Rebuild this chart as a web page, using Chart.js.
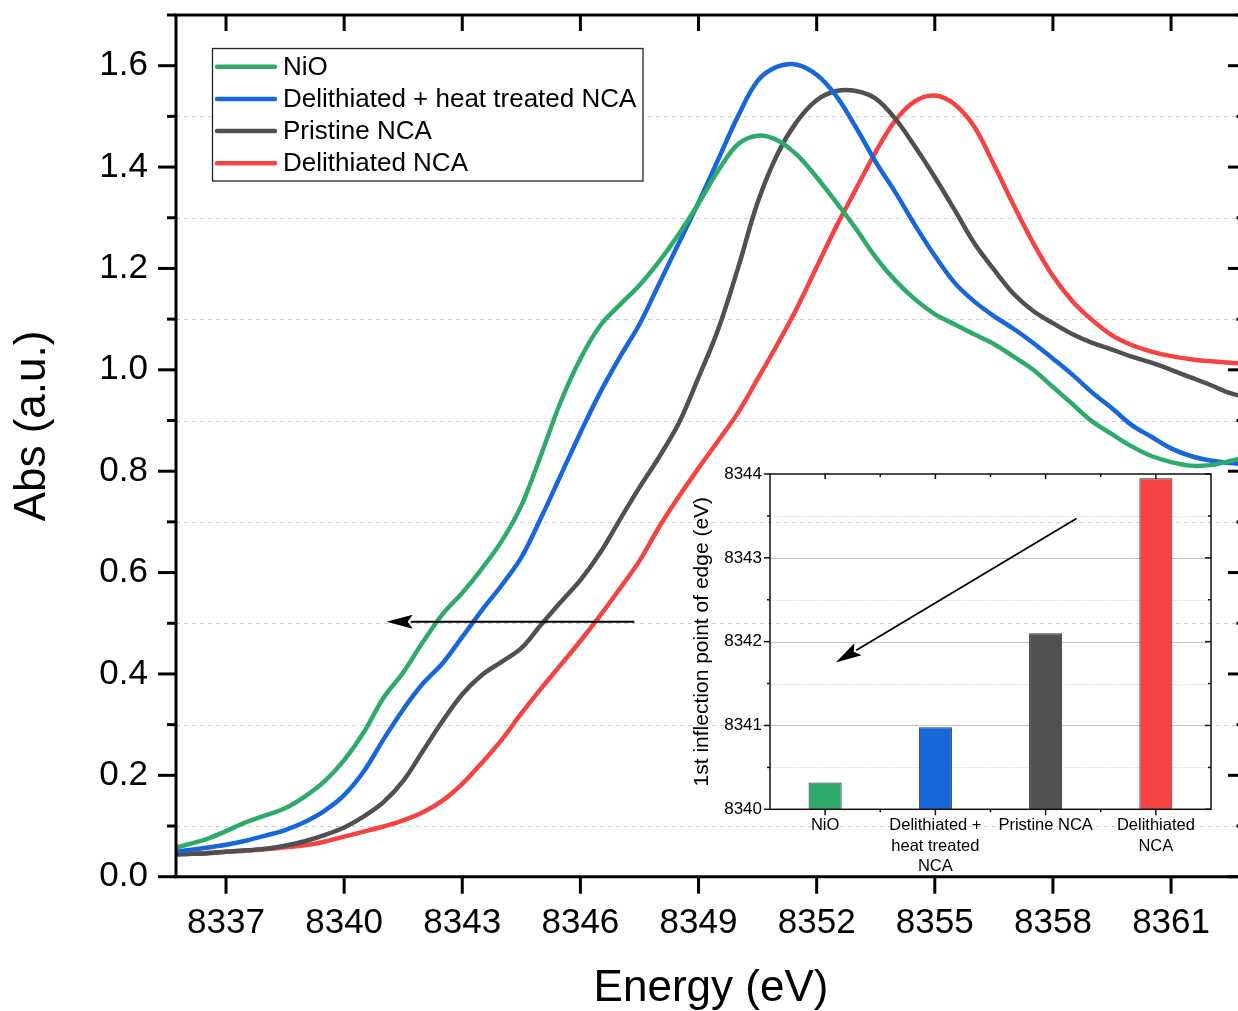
<!DOCTYPE html>
<html>
<head>
<meta charset="utf-8">
<title>Ni K-edge XANES</title>
<script src="https://cdn.jsdelivr.net/npm/chart.js@4.4.1/dist/chart.umd.min.js"></script>
<style>
  html, body { margin: 0; padding: 0; background: #fff; overflow: hidden; }
  #wrap { position: relative; width: 1238px; height: 1011px; }
  #main { position: absolute; left: 0; top: 0; }
  #inset { position: absolute; left: 680px; top: 460px; }
</style>
</head>
<body>
<div id="wrap">
  <canvas id="main" width="1238" height="1011"></canvas>
  <canvas id="inset" width="550" height="420"></canvas>
</div>
<script>
// spectra, every 0.5 eV
const energy = [
  8335.5, 8336.0, 8336.5, 8337.0, 8337.5, 8338.0, 8338.5, 8339.0, 8339.5, 8340.0,
  8340.5, 8341.0, 8341.5, 8342.0, 8342.5, 8343.0, 8343.5, 8344.0, 8344.5, 8345.0,
  8345.5, 8346.0, 8346.5, 8347.0, 8347.5, 8348.0, 8348.5, 8349.0, 8349.5, 8350.0,
  8350.5, 8351.0, 8351.5, 8352.0, 8352.5, 8353.0, 8353.5, 8354.0, 8354.5, 8355.0,
  8355.5, 8356.0, 8356.5, 8357.0, 8357.5, 8358.0, 8358.5, 8359.0, 8359.5, 8360.0,
  8360.5, 8361.0, 8361.5, 8362.0, 8362.5, 8363.0
];
const nio = [
  0.053, 0.063, 0.074, 0.090, 0.107, 0.121, 0.135, 0.158, 0.188, 0.230,
  0.285, 0.353, 0.403, 0.463, 0.518, 0.560, 0.608, 0.662, 0.732, 0.832,
  0.937, 1.022, 1.087, 1.128, 1.167, 1.214, 1.268, 1.328, 1.393, 1.445,
  1.462, 1.453, 1.424, 1.380, 1.330, 1.278, 1.222, 1.176, 1.139, 1.110,
  1.090, 1.070, 1.051, 1.026, 1.000, 0.966, 0.932, 0.898, 0.873, 0.849,
  0.830, 0.818, 0.811, 0.812, 0.820, 0.830
];
const delithHeat = [
  0.047, 0.052, 0.057, 0.063, 0.071, 0.081, 0.092, 0.108, 0.130, 0.161,
  0.208, 0.271, 0.330, 0.381, 0.421, 0.473, 0.526, 0.575, 0.630, 0.708,
  0.792, 0.876, 0.955, 1.025, 1.090, 1.170, 1.250, 1.330, 1.415, 1.500,
  1.570, 1.598, 1.602, 1.582, 1.540, 1.478, 1.410, 1.350, 1.285, 1.225,
  1.172, 1.135, 1.106, 1.081, 1.053, 1.022, 0.990, 0.955, 0.924, 0.891,
  0.868, 0.845, 0.830, 0.821, 0.816, 0.813
];
const pristine = [
  0.044, 0.045, 0.046, 0.049, 0.052, 0.055, 0.061, 0.070, 0.082, 0.097,
  0.119, 0.147, 0.189, 0.248, 0.307, 0.360, 0.398, 0.424, 0.451, 0.497,
  0.542, 0.585, 0.639, 0.704, 0.768, 0.828, 0.895, 0.985, 1.080, 1.200,
  1.330, 1.425, 1.490, 1.532, 1.550, 1.550, 1.535, 1.495, 1.440, 1.380,
  1.316, 1.250, 1.198, 1.150, 1.116, 1.092, 1.070, 1.053, 1.040, 1.026,
  1.014, 1.000, 0.985, 0.970, 0.954, 0.945
];
const delith = [
  0.043, 0.045, 0.047, 0.049, 0.051, 0.054, 0.058, 0.062, 0.069, 0.079,
  0.089, 0.099, 0.111, 0.127, 0.150, 0.183, 0.225, 0.270, 0.322, 0.371,
  0.418, 0.465, 0.515, 0.568, 0.623, 0.690, 0.750, 0.806, 0.860, 0.915,
  0.982, 1.050, 1.122, 1.203, 1.283, 1.357, 1.430, 1.492, 1.530, 1.541,
  1.524, 1.480, 1.405, 1.325, 1.250, 1.185, 1.135, 1.098, 1.068, 1.049,
  1.036, 1.027, 1.021, 1.017, 1.014, 1.012
];

const seriesNames = ['NiO', 'Delithiated + heat treated NCA', 'Pristine NCA', 'Delithiated NCA'];
const seriesData = [nio, delithHeat, pristine, delith];
const seriesColors = ['#2eaa6b', '#1767db', '#505050', '#f54242'];

const energyTicks = [8337, 8340, 8343, 8346, 8349, 8352, 8355, 8358, 8361];
const absTicks = [0, 0.2, 0.4, 0.6, 0.8, 1.0, 1.2, 1.4, 1.6];
const absMinorTicks = [0.1, 0.3, 0.5, 0.7, 0.9, 1.1, 1.3, 1.5, 1.7];

// inset: 1st inflection point of the edge
const insetLabels = [['NiO'], ['Delithiated +', 'heat treated', 'NCA'], ['Pristine NCA'], ['Delithiated', 'NCA']];
const edgeValues = [8340.32, 8340.98, 8342.10, 8343.95];
const edgeTicks = [8340, 8341, 8342, 8343, 8344];
const edgeMinorTicks = [8340.5, 8341.5, 8342.5, 8343.5];

// arrows, in data units of each plot
const mainArrow = { from: [8347.37, 0.503], to: [8341.08, 0.503] };
const insetArrow = { from: [2.28, 8343.47], to: [0.096, 8341.75] };

const FONT = 'Liberation Sans, Arial, sans-serif';

function seg(ctx, x1, y1, x2, y2) {
  ctx.beginPath(); ctx.moveTo(x1, y1); ctx.lineTo(x2, y2); ctx.stroke();
}

// scales add label padding to the layout; the plot box here is fixed
function noPad(s) {
  s.paddingTop = 0; s.paddingBottom = 0; s.paddingLeft = 0; s.paddingRight = 0;
}

function arrow(ctx, x1, y1, x2, y2, headLen, headW, lw) {
  const a = Math.atan2(y2 - y1, x2 - x1);
  const bx = x2 - headLen * Math.cos(a), by = y2 - headLen * Math.sin(a);
  ctx.save();
  ctx.strokeStyle = '#000'; ctx.fillStyle = '#000'; ctx.lineWidth = lw;
  seg(ctx, x1, y1, bx + 2 * Math.cos(a), by + 2 * Math.sin(a));
  ctx.beginPath();
  ctx.moveTo(x2, y2);
  ctx.lineTo(bx + headW * Math.sin(a), by - headW * Math.cos(a));
  ctx.lineTo(bx + 5 * Math.cos(a), by + 5 * Math.sin(a));
  ctx.lineTo(bx - headW * Math.sin(a), by + headW * Math.cos(a));
  ctx.closePath(); ctx.fill();
  ctx.restore();
}

const mainDecor = {
  id: 'mainDecor',
  beforeDatasetsDraw(chart) {
    const { ctx, chartArea: a, scales: { y } } = chart;
    ctx.save();
    ctx.strokeStyle = '#cfcfcf'; ctx.lineWidth = 1; ctx.setLineDash([4, 4]);
    absMinorTicks.forEach(v => {
      if (v > 1.65) return;
      const py = Math.round(y.getPixelForValue(v)) + 0.5;
      seg(ctx, a.left, py, a.right, py);
    });
    ctx.restore();
  },
  afterDatasetsDraw(chart) {
    const { ctx, chartArea: a, scales: { x, y } } = chart;
    ctx.save();
    ctx.strokeStyle = '#000'; ctx.lineWidth = 3;
    seg(ctx, a.left - 1.5, a.top, a.right, a.top);
    seg(ctx, a.left, a.top, a.left, a.bottom + 1.5);
    seg(ctx, a.left - 1.5, a.bottom, a.right, a.bottom);
    absTicks.forEach(v => {
      const py = y.getPixelForValue(v);
      seg(ctx, a.left - 18, py, a.left, py);
      seg(ctx, a.right - 10, py, a.right, py);
    });
    absMinorTicks.forEach(v => {
      const py = y.getPixelForValue(v);
      seg(ctx, a.left - 9, py, a.left, py);
      seg(ctx, a.right - 1.5, py, a.right, py);
    });
    energyTicks.forEach(v => {
      const px = x.getPixelForValue(v);
      seg(ctx, px, a.top, px, a.top + 16);
      seg(ctx, px, a.bottom, px, a.bottom + 17);
    });

    // legend box
    ctx.fillStyle = '#fff'; ctx.strokeStyle = '#222'; ctx.lineWidth = 1.3;
    ctx.fillRect(212.5, 48.5, 430.5, 132.5);
    ctx.strokeRect(212.5, 48.5, 430.5, 132.5);
    ctx.font = '26px ' + FONT; ctx.textBaseline = 'middle'; ctx.textAlign = 'left';
    ctx.lineCap = 'round';
    seriesNames.forEach((name, i) => {
      const ry = 66.7 + i * 32.2;
      ctx.strokeStyle = seriesColors[i]; ctx.lineWidth = 4.5;
      seg(ctx, 217, ry, 275, ry);
      ctx.fillStyle = '#000';
      ctx.fillText(name, 283, ry + 1);
    });
    ctx.lineCap = 'butt';

    arrow(ctx, x.getPixelForValue(mainArrow.from[0]), y.getPixelForValue(mainArrow.from[1]),
      x.getPixelForValue(mainArrow.to[0]), y.getPixelForValue(mainArrow.to[1]), 26, 7, 2);

    // axis titles
    ctx.fillStyle = '#000'; ctx.font = '44px ' + FONT;
    ctx.textAlign = 'center'; ctx.textBaseline = 'middle';
    ctx.fillText('Energy (eV)', 711, 989);
    ctx.translate(33, 426); ctx.rotate(-Math.PI / 2);
    ctx.fillText('Abs (a.u.)', 0, 0);
    ctx.restore();
  }
};

new Chart(document.getElementById('main'), {
  type: 'line',
  data: {
    datasets: seriesNames.map((name, i) => ({
      label: name,
      data: energy.map((e, k) => ({ x: e, y: seriesData[i][k] })),
      borderColor: seriesColors[i],
      backgroundColor: seriesColors[i],
      borderWidth: 4.5,
      pointRadius: 0,
      tension: 0.35,
      fill: false
    }))
  },
  options: {
    responsive: false,
    animation: false,
    events: [],
    layout: { padding: { top: 15, right: 0, left: 0, bottom: 0 }, autoPadding: false },
    plugins: { legend: { display: false }, tooltip: { enabled: false } },
    scales: {
      x: {
        type: 'linear', min: 8335.73, max: 8362.7,
        grid: { display: false, drawTicks: false }, border: { display: false },
        afterBuildTicks(s) { s.ticks = energyTicks.map(v => ({ value: v })); },
        ticks: { color: '#000', font: { family: FONT, size: 35 }, padding: 26, maxRotation: 0, callback: v => String(v) },
        afterFit(s) { s.height = 134.3; noPad(s); }
      },
      y: {
        min: 0, max: 1.7,
        grid: { display: false, drawTicks: false }, border: { display: false },
        afterBuildTicks(s) { s.ticks = absTicks.map(v => ({ value: v })); },
        ticks: { color: '#000', font: { family: FONT, size: 35 }, padding: 28, callback: v => v.toFixed(1) },
        afterFit(s) { s.width = 176; noPad(s); }
      }
    }
  },
  plugins: [mainDecor]
});

const insetDecor = {
  id: 'insetDecor',
  beforeDatasetsDraw(chart) {
    const { ctx, chartArea: a, scales: { y } } = chart;
    ctx.save();
    ctx.lineWidth = 1;
    ctx.strokeStyle = '#c4c4c4';
    edgeTicks.slice(1, -1).forEach(v => {
      const py = Math.round(y.getPixelForValue(v)) + 0.5;
      seg(ctx, a.left, py, a.right, py);
    });
    ctx.strokeStyle = '#d6d6d6'; ctx.setLineDash([1.5, 1.5]);
    edgeMinorTicks.forEach(v => {
      const py = Math.round(y.getPixelForValue(v)) + 0.5;
      seg(ctx, a.left, py, a.right, py);
    });
    ctx.restore();
  },
  afterDatasetsDraw(chart) {
    const { ctx, chartArea: a, scales: { x, y } } = chart;
    ctx.save();
    ctx.strokeStyle = '#111'; ctx.lineWidth = 1.5;
    ctx.strokeRect(a.left, a.top, a.right - a.left, a.bottom - a.top);
    edgeTicks.forEach(v => {
      const py = y.getPixelForValue(v);
      seg(ctx, a.left - 6, py, a.left, py);
      seg(ctx, a.right - 6, py, a.right, py);
    });
    edgeMinorTicks.forEach(v => {
      const py = y.getPixelForValue(v);
      seg(ctx, a.left - 3, py, a.left, py);
      seg(ctx, a.right - 3, py, a.right, py);
    });
    const half = (a.right - a.left) / insetLabels.length / 2;
    insetLabels.forEach((l, i) => {
      const px = x.getPixelForValue(i);
      seg(ctx, px, a.top, px, a.top + 5);
      seg(ctx, px, a.bottom, px, a.bottom + 6);
      if (i > 0) {
        seg(ctx, px - half, a.top, px - half, a.top + 3);
        seg(ctx, px - half, a.bottom, px - half, a.bottom + 3);
      }
    });
    arrow(ctx, x.getPixelForValue(insetArrow.from[0]), y.getPixelForValue(insetArrow.from[1]),
      x.getPixelForValue(insetArrow.to[0]), y.getPixelForValue(insetArrow.to[1]), 26, 7, 1.8);
    ctx.restore();
  }
};

new Chart(document.getElementById('inset'), {
  type: 'bar',
  data: {
    labels: insetLabels,
    datasets: [{
      data: edgeValues,
      backgroundColor: seriesColors,
      borderColor: '#333',
      borderWidth: 1,
      barPercentage: 0.3,
      categoryPercentage: 1
    }]
  },
  options: {
    responsive: false,
    animation: false,
    events: [],
    layout: { padding: { top: 14, right: 19, left: 0, bottom: 0 }, autoPadding: false },
    plugins: { legend: { display: false }, tooltip: { enabled: false } },
    scales: {
      x: {
        grid: { display: false, drawTicks: false }, border: { display: false },
        ticks: { color: '#000', font: { family: FONT, size: 16.5, lineHeight: 1.25 }, padding: 6, maxRotation: 0, autoSkip: false },
        afterFit(s) { s.height = 70.7; noPad(s); }
      },
      y: {
        min: 8340, max: 8344,
        grid: { display: false, drawTicks: false }, border: { display: false },
        afterBuildTicks(s) { s.ticks = edgeTicks.map(v => ({ value: v })); },
        ticks: { color: '#000', font: { family: FONT, size: 17 }, padding: 8, callback: v => String(v) },
        title: {
          display: true, text: '1st inflection point of edge (eV)', color: '#000',
          font: { family: FONT, size: 21, lineHeight: 1.2 }, padding: { top: 10, bottom: 0 }
        },
        afterFit(s) { s.width = 90; noPad(s); }
      }
    }
  },
  plugins: [insetDecor]
});
</script>
</body>
</html>
